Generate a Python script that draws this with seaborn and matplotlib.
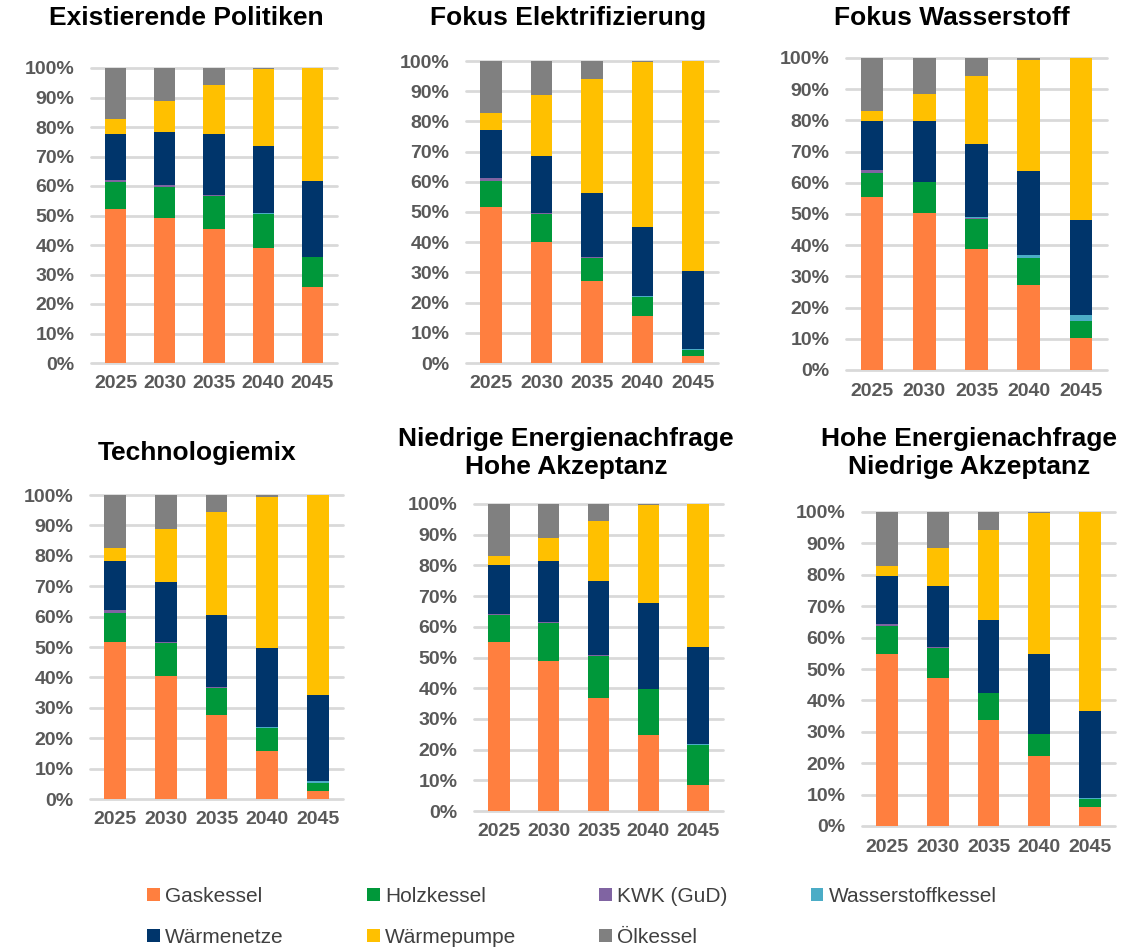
import numpy as np
import pandas as pd
import matplotlib
matplotlib.use('Agg')
import matplotlib.pyplot as plt
from matplotlib.patches import Patch
import seaborn as sns

# Jahre und Technologien (Reihenfolge von unten nach oben im Stapel)
years = ['2025', '2030', '2035', '2040', '2045']
techs = ['Gaskessel', 'Holzkessel', 'KWK (GuD)', 'Wasserstoffkessel',
         'Wärmenetze', 'Wärmepumpe', 'Ölkessel']
colors = ['#FF7F3F', '#00983A', '#8064A2', '#4BACC6', '#00356B', '#FFC000', '#808080']

# Anteile in % je Szenario
existierende_politiken = {
    'Gaskessel':         [52.1, 49.0, 45.5, 39.0, 25.8],
    'Holzkessel':        [9.4, 10.8, 11.2, 11.5, 10.0],
    'KWK (GuD)':         [0.6, 0.4, 0.2, 0.1, 0.0],
    'Wasserstoffkessel': [0.0, 0.0, 0.0, 0.2, 0.0],
    'Wärmenetze':        [15.5, 18.2, 20.8, 22.7, 25.9],
    'Wärmepumpe':        [5.2, 10.3, 16.5, 26.3, 38.3],
    'Ölkessel':          [17.2, 11.3, 5.8, 0.2, 0.0],
}
fokus_elektrifizierung = {
    'Gaskessel':         [51.6, 40.2, 27.3, 15.6, 2.4],
    'Holzkessel':        [8.8, 9.0, 7.4, 6.2, 1.8],
    'KWK (GuD)':         [0.8, 0.6, 0.3, 0.1, 0.0],
    'Wasserstoffkessel': [0.0, 0.0, 0.0, 0.3, 0.6],
    'Wärmenetze':        [15.8, 18.6, 21.4, 22.9, 25.5],
    'Wärmepumpe':        [5.9, 20.4, 37.8, 54.7, 69.7],
    'Ölkessel':          [17.1, 11.2, 5.8, 0.2, 0.0],
}
fokus_wasserstoff = {
    'Gaskessel':         [55.6, 50.3, 38.8, 27.1, 10.4],
    'Holzkessel':        [7.7, 9.8, 9.6, 8.7, 5.4],
    'KWK (GuD)':         [0.7, 0.3, 0.4, 0.1, 0.0],
    'Wasserstoffkessel': [0.0, 0.0, 0.3, 1.0, 1.8],
    'Wärmenetze':        [15.7, 19.3, 23.3, 27.0, 30.5],
    'Wärmepumpe':        [3.2, 8.7, 21.9, 35.6, 51.9],
    'Ölkessel':          [17.1, 11.6, 5.7, 0.5, 0.0],
}
technologiemix = {
    'Gaskessel':         [51.8, 40.4, 27.5, 15.9, 2.5],
    'Holzkessel':        [9.5, 10.9, 9.0, 7.4, 2.8],
    'KWK (GuD)':         [0.8, 0.4, 0.3, 0.1, 0.0],
    'Wasserstoffkessel': [0.0, 0.0, 0.0, 0.4, 0.7],
    'Wärmenetze':        [16.1, 19.6, 23.6, 25.9, 28.3],
    'Wärmepumpe':        [4.4, 17.5, 33.9, 49.8, 65.7],
    'Ölkessel':          [17.4, 11.2, 5.7, 0.5, 0.0],
}
niedrige_nachfrage = {
    'Gaskessel':         [55.1, 49.0, 36.7, 24.8, 8.5],
    'Holzkessel':        [8.6, 12.3, 13.8, 14.8, 13.0],
    'KWK (GuD)':         [0.6, 0.3, 0.4, 0.1, 0.0],
    'Wasserstoffkessel': [0.0, 0.0, 0.0, 0.2, 0.2],
    'Wärmenetze':        [15.7, 19.8, 24.1, 27.9, 31.8],
    'Wärmepumpe':        [3.0, 7.4, 19.5, 32.0, 46.5],
    'Ölkessel':          [17.0, 11.2, 5.5, 0.2, 0.0],
}
hohe_nachfrage = {
    'Gaskessel':         [54.8, 47.1, 33.9, 22.2, 5.9],
    'Holzkessel':        [8.9, 9.5, 8.5, 7.0, 2.8],
    'KWK (GuD)':         [0.7, 0.5, 0.1, 0.0, 0.0],
    'Wasserstoffkessel': [0.0, 0.0, 0.0, 0.0, 0.3],
    'Wärmenetze':        [15.3, 19.4, 23.2, 25.6, 27.7],
    'Wärmepumpe':        [3.1, 12.0, 28.7, 45.0, 63.3],
    'Ölkessel':          [17.2, 11.5, 5.6, 0.2, 0.0],
}

# (Titel, Daten, Achsenposition in Pixeln: x0, y0, x1, y1, Titelmitte x, Titel y)
panels = [
    ('Existierende Politiken', existierende_politiken, (91, 68, 337, 363), 186, 18),
    ('Fokus Elektrifizierung', fokus_elektrifizierung, (466, 61, 718, 363), 568, 18),
    ('Fokus Wasserstoff', fokus_wasserstoff, (846, 58, 1107, 370), 952, 18),
    ('Technologiemix', technologiemix, (90, 495, 343, 799), 197, 453),
    ('Niedrige Energienachfrage\nHohe Akzeptanz', niedrige_nachfrage, (474, 504, 723, 811), 566, 453),
    ('Hohe Energienachfrage\nNiedrige Akzeptanz', hohe_nachfrage, (862, 512, 1115, 826), 969, 453),
]

sns.set_theme(style='white')
plt.rcParams['font.family'] = ['Liberation Sans', 'DejaVu Sans']

W, H = 1140, 948
fig = plt.figure(figsize=(W / 100, H / 100), dpi=100)

for title, data, (x0, y0, x1, y1), tx, ty in panels:
    ax = fig.add_axes([x0 / W, 1 - y1 / H, (x1 - x0) / W, (y1 - y0) / H])
    df = pd.DataFrame(data)
    cum = df[techs].cumsum(axis=1)
    cum['Jahr'] = years
    # gestapelt: oberste kumulierte Summe zuerst, dann darueber die tieferen
    for tech, col in reversed(list(zip(techs, colors))):
        sns.barplot(data=cum, x='Jahr', y=tech, color=col, width=0.43,
                    saturation=1, errorbar=None, linewidth=0, ax=ax)
    ax.set_xlim(-0.5, 4.5)
    ax.set_ylim(0, 100)
    ax.set_yticks(range(0, 101, 10))
    ax.set_yticklabels([f'{v}%' for v in range(0, 101, 10)])
    ax.set_xlabel('')
    ax.set_ylabel('')
    ax.set_axisbelow(True)
    ax.yaxis.grid(True, color='#D9D9D9', linewidth=2.0)
    for gl in ax.get_ygridlines():
        gl.set_clip_on(False)
    sns.despine(ax=ax, left=True, bottom=True)
    ax.tick_params(axis='both', length=0, labelsize=14, labelcolor='#595959')
    ax.tick_params(axis='y', pad=12)
    ax.tick_params(axis='x', pad=9)
    for lab in ax.get_xticklabels() + ax.get_yticklabels():
        lab.set_fontweight('bold')
    fig.text(tx / W, 1 - ty / H, title, ha='center', va='center',
             fontsize=19, fontweight='bold', color='black', linespacing=1.2)

# Legende: spaltenweise sortiert, damit Zeilen wie im Original erscheinen
order = [0, 4, 1, 5, 2, 6, 3]
handles = [Patch(facecolor=colors[i], edgecolor='none', label=techs[i]) for i in order]
leg = fig.legend(handles=handles, ncol=4, loc='center',
                 bbox_to_anchor=(572 / W, 1 - 917 / H), frameon=False,
                 fontsize=15, handlelength=0.6, handleheight=0.6,
                 handletextpad=0.25, columnspacing=4.0, labelspacing=1.05)
for t in leg.get_texts():
    t.set_color('#404040')

fig.savefig('out.png', dpi=100)
